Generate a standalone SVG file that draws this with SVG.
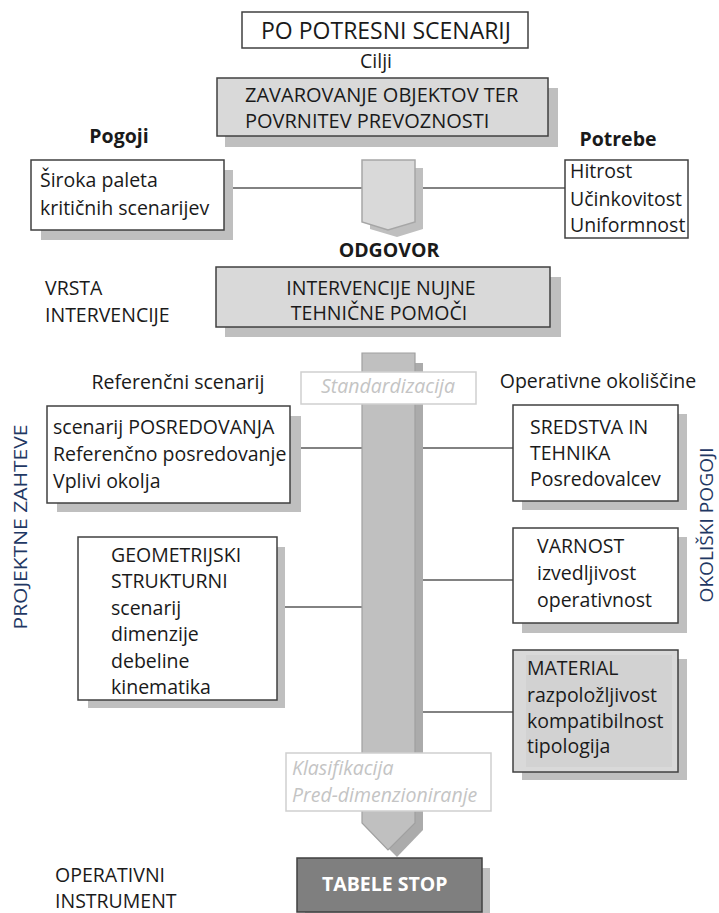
<svg xmlns="http://www.w3.org/2000/svg" width="719" height="913" viewBox="0 0 719 913">
  <style>
    text { font-family: "Open Sans", "Noto Sans", "Liberation Sans", sans-serif; fill: #1a1a1a; font-size: 19.5px; }
    .b { font-weight: bold; }
    .mid { text-anchor: middle; }
    .ghost { fill: #c4c4c4; font-style: italic; }
    .side { fill: #1f3864; font-size: 19px; }
    .white { fill: #ffffff; }
    .box { fill: #ffffff; stroke: #404040; stroke-width: 1.5; }
    .grey { fill: #d9d9d9; stroke: #404040; stroke-width: 1.5; }
    .shadow { fill: #bfbfbf; }
    .pale { fill: #ffffff; stroke: #cfcfcf; stroke-width: 1.5; }
    .link { stroke: #595959; stroke-width: 1.5; fill: none; }
  </style>

  <!-- connectors -->
  <g id="connectors">
    <line class="link" x1="224" y1="188" x2="362" y2="188"/>
    <line class="link" x1="415" y1="188" x2="565" y2="188"/>
    <line class="link" x1="290" y1="448" x2="362" y2="448"/>
    <line class="link" x1="415" y1="448" x2="513" y2="448"/>
    <line class="link" x1="277" y1="607" x2="362" y2="607"/>
    <line class="link" x1="415" y1="580" x2="513" y2="580"/>
    <line class="link" x1="415" y1="712" x2="513" y2="712"/>
  </g>

  <!-- title -->
  <g id="title">
    <rect class="box" x="242" y="12" width="286" height="36"/>
    <text class="mid" x="386" y="39" style="font-size:23px">PO POTRESNI SCENARIJ</text>
  </g>

  <g id="cilji">
    <text class="mid" x="376" y="68">Cilji</text>
  </g>

  <!-- goal -->
  <g id="goal">
    <rect class="shadow" x="225" y="88" width="333" height="59"/>
    <rect class="grey" x="217" y="78" width="331" height="58"/>
    <text x="245" y="102" style="font-size:20px">ZAVAROVANJE OBJEKTOV TER</text>
    <text x="245" y="128" style="font-size:20px">POVRNITEV PREVOZNOSTI</text>
  </g>

  <g id="pogoji-label">
    <text class="b mid" x="119" y="143">Pogoji</text>
  </g>
  <g id="potrebe-label">
    <text class="b mid" x="618" y="146">Potrebe</text>
  </g>

  <g id="pogoji">
    <rect class="shadow" x="41" y="170" width="192" height="70"/>
    <rect class="box" x="31" y="160" width="193" height="70"/>
    <text x="40" y="187">Široka paleta</text>
    <text x="40" y="215">kritičnih scenarijev</text>
  </g>

  <!-- small pentagon arrow -->
  <g id="merge-arrow">
    <path class="shadow" d="M370,168 H423 V229 L397,237 L370,229 Z"/>
    <path d="M362,160 H415 V222 L388,230 L362,222 Z" fill="#d9d9d9" stroke="#a6a6a6" stroke-width="1.5"/>
  </g>

  <g id="potrebe">
    <rect class="box" x="565" y="160" width="123" height="78"/>
    <text x="570" y="178">Hitrost</text>
    <text x="570" y="206">Učinkovitost</text>
    <text x="570" y="232">Uniformnost</text>
  </g>

  <g id="odgovor-label">
    <text class="b mid" x="389" y="257">ODGOVOR</text>
  </g>

  <g id="vrsta-label">
    <text x="45" y="295">VRSTA</text>
    <text x="45" y="322">INTERVENCIJE</text>
  </g>

  <g id="intervencije">
    <rect class="shadow" x="225" y="277" width="336" height="60"/>
    <rect class="grey" x="216" y="267" width="334" height="60"/>
    <text class="mid" x="381" y="295">INTERVENCIJE NUJNE</text>
    <text class="mid" x="379" y="320">TEHNIČNE POMOČI</text>
  </g>

  <!-- main vertical arrow -->
  <g id="main-arrow">
    <path d="M370,363 H423 V830 L397,857 L370,830 Z" fill="#ababab"/>
    <path d="M362,353 H415 V823 L388,850 L362,823 Z" fill="#c0c0c0" stroke="#a0a0a0" stroke-width="1.2"/>
  </g>

  <g id="standardizacija">
    <rect class="pale" x="301" y="372" width="175" height="32"/>
    <text class="ghost mid" x="388" y="393">Standardizacija</text>
  </g>

  <g id="referencni-label">
    <text class="mid" x="178" y="389">Referenčni scenarij</text>
  </g>
  <g id="operativne-label">
    <text class="mid" x="598" y="388">Operativne okoliščine</text>
  </g>

  <g id="posredovanje">
    <rect class="shadow" x="57" y="416" width="244" height="96"/>
    <rect class="box" x="47" y="406" width="243" height="97"/>
    <text x="53" y="434">scenarij POSREDOVANJA</text>
    <text x="53" y="461">Referenčno posredovanje</text>
    <text x="53" y="488">Vplivi okolja</text>
  </g>

  <g id="geometrijski">
    <rect class="shadow" x="88" y="547" width="197" height="161"/>
    <rect class="box" x="78" y="537" width="199" height="163"/>
    <text x="111" y="562">GEOMETRIJSKI</text>
    <text x="111" y="588">STRUKTURNI</text>
    <text x="111" y="615">scenarij</text>
    <text x="111" y="641">dimenzije</text>
    <text x="111" y="668">debeline</text>
    <text x="111" y="694">kinematika</text>
  </g>

  <g id="sredstva">
    <rect class="shadow" x="522" y="414" width="165" height="96"/>
    <rect class="box" x="513" y="405" width="165" height="96"/>
    <text x="530" y="434">SREDSTVA IN</text>
    <text x="530" y="460">TEHNIKA</text>
    <text x="530" y="486">Posredovalcev</text>
  </g>

  <g id="varnost">
    <rect class="shadow" x="522" y="537" width="165" height="96"/>
    <rect class="box" x="513" y="528" width="165" height="95"/>
    <text x="537" y="553">VARNOST</text>
    <text x="537" y="580">izvedljivost</text>
    <text x="537" y="607">operativnost</text>
  </g>

  <g id="material">
    <rect class="shadow" x="522" y="659" width="165" height="121"/>
    <rect class="grey" x="513" y="650" width="165" height="122" fill="#dcdcdc"/>
    <rect x="526" y="655" width="146" height="112" fill="#d2d2d2"/>
    <text x="527" y="675">MATERIAL</text>
    <text x="527" y="702">razpoložljivost</text>
    <text x="527" y="728">kompatibilnost</text>
    <text x="527" y="753">tipologija</text>
  </g>

  <g id="klasifikacija">
    <rect class="pale" x="286" y="753" width="205" height="58"/>
    <text class="ghost" x="292" y="775">Klasifikacija</text>
    <text class="ghost" x="292" y="802">Pred-dimenzioniranje</text>
  </g>

  <g id="instrument-label">
    <text x="55" y="882">OPERATIVNI</text>
    <text x="55" y="908">INSTRUMENT</text>
  </g>

  <g id="tabele-stop">
    <rect class="shadow" x="305" y="868" width="185" height="45"/>
    <rect x="297" y="858" width="185" height="54" fill="#7f7f7f" stroke="#404040" stroke-width="1.5"/>
    <text class="b white" x="322" y="891">TABELE STOP</text>
  </g>

  <!-- side captions -->
  <g id="projektne-zahteve">
    <text class="side mid" transform="translate(27,527) rotate(-90)" textLength="205" lengthAdjust="spacingAndGlyphs">PROJEKTNE ZAHTEVE</text>
  </g>
  <g id="okoliski-pogoji">
    <text class="side mid" transform="translate(713,525) rotate(-90)" textLength="155" lengthAdjust="spacingAndGlyphs">OKOLIŠKI POGOJI</text>
  </g>
</svg>
